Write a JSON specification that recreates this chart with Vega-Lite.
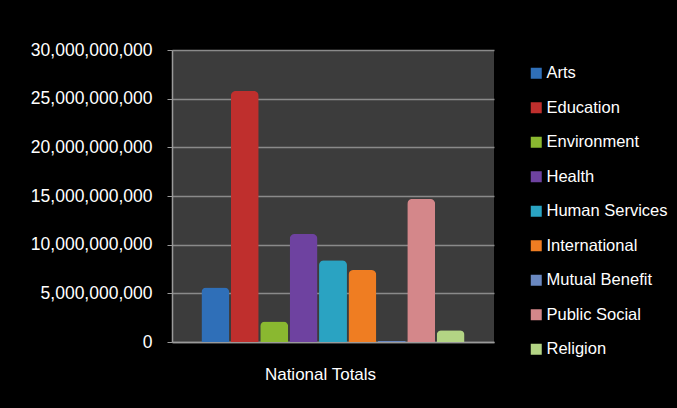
{
  "$schema": "https://vega.github.io/schema/vega-lite/v6.json",
  "autosize": {"type": "none"},
  "padding": {"left": 172, "top": 50, "right": 183, "bottom": 66},
  "width": 322,
  "height": 292,
  "background": "#000000",
  "data": {
    "values": [
      {"group": "National Totals", "category": "Arts", "value": 5600000000},
      {"group": "National Totals", "category": "Education", "value": 25800000000},
      {"group": "National Totals", "category": "Environment", "value": 2100000000},
      {"group": "National Totals", "category": "Health", "value": 11100000000},
      {"group": "National Totals", "category": "Human Services", "value": 8400000000},
      {"group": "National Totals", "category": "International", "value": 7400000000},
      {"group": "National Totals", "category": "Mutual Benefit", "value": 100000000},
      {"group": "National Totals", "category": "Public Social", "value": 14700000000},
      {"group": "National Totals", "category": "Religion", "value": 1200000000}
    ]
  },
  "config": {
    "font": "Liberation Sans",
    "view": {"fill": "#3c3c3c", "stroke": null}
  },
  "mark": {"type": "bar", "cornerRadiusTopLeft": 5, "cornerRadiusTopRight": 5},
  "encoding": {
    "x": {
      "field": "category",
      "type": "nominal",
      "sort": null,
      "scale": {"paddingInner": 0.05, "paddingOuter": 1},
      "axis": {
        "title": "National Totals",
        "labels": false,
        "ticks": false,
        "domainColor": "#9a9a9a",
        "domainWidth": 1.5,
        "titleColor": "#ffffff",
        "titleFontSize": 17,
        "titleFontWeight": "normal",
        "titlePadding": 24,
        "titleX": 148
      }
    },
    "y": {
      "field": "value",
      "type": "quantitative",
      "scale": {"domain": [0, 30000000000], "nice": false},
      "axis": {
        "title": null,
        "values": [0, 5000000000, 10000000000, 15000000000, 20000000000, 25000000000, 30000000000],
        "format": ",d",
        "labelColor": "#ffffff",
        "labelFontSize": 17.5,
        "labelPadding": 15,
        "tickSize": 5,
        "tickColor": "#9a9a9a",
        "domainColor": "#9a9a9a",
        "domainWidth": 1.5,
        "gridColor": "#8a8a8a",
        "gridWidth": 1.5
      }
    },
    "color": {
      "field": "category",
      "type": "nominal",
      "sort": null,
      "scale": {
        "domain": ["Arts", "Education", "Environment", "Health", "Human Services", "International", "Mutual Benefit", "Public Social", "Religion"],
        "range": ["#2f6fb8", "#bf2f2d", "#8ab830", "#6e42a0", "#2aa3c2", "#ef7d22", "#6a88c0", "#d4878a", "#b3d484"]
      },
      "legend": {
        "title": null,
        "orient": "none",
        "legendX": 356,
        "legendY": 15,
        "symbolType": "square",
        "symbolSize": 121,
        "symbolStrokeWidth": 0,
        "labelColor": "#ffffff",
        "labelFontSize": 16.5,
        "labelOffset": 2,
        "rowPadding": 17.5,
        "labelLimit": 200
      }
    }
  }
}
